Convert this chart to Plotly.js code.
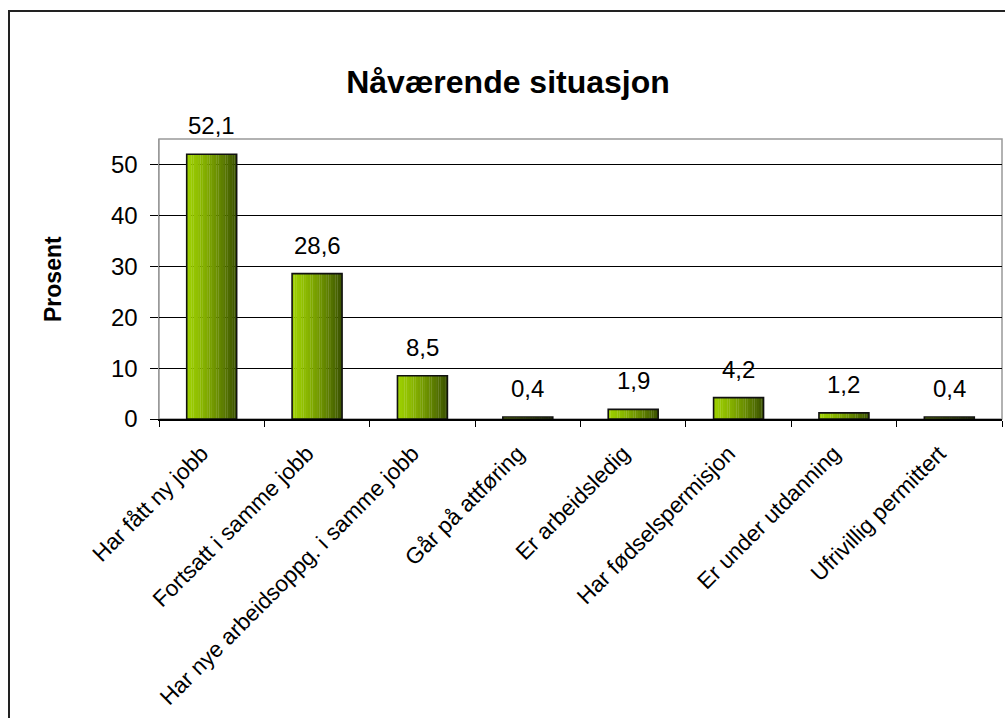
<!DOCTYPE html>
<html>
<head>
<meta charset="utf-8">
<script src="https://cdn.plot.ly/plotly-3.0.1.min.js"></script>
<style>
  html, body { margin: 0; padding: 0; background: #fff; overflow: hidden; }
  #wrap { position: relative; width: 1005px; height: 718px; }
  #chart { position: absolute; left: 0; top: 0; width: 1005px; height: 718px; }
  #frame { position: absolute; left: 8px; top: 10px; width: 1100px; height: 800px;
           border: 2px solid #222; pointer-events: none; box-sizing: border-box; }
</style>
</head>
<body>
<div id="wrap">
  <div id="chart"></div>
  <div id="frame"></div>
</div>
<script>
const categories = [
  "Har fått ny jobb",
  "Fortsatt i samme jobb",
  "Har nye arbeidsoppg. i samme jobb",
  "Går på attføring",
  "Er arbeidsledig",
  "Har fødselspermisjon",
  "Er under utdanning",
  "Ufrivillig permittert"
];
const values = [52.1, 28.6, 8.5, 0.4, 1.9, 4.2, 1.2, 0.4];
const chartTitle = "Nåværende situasjon";
const yTitle = "Prosent";
const yTicks = [0, 10, 20, 30, 40, 50];

const FONT = "Arial, 'Liberation Sans', sans-serif";
const barWidth = 0.474;
const slices = 22;
const cLeft = [156, 206, 0];
const cRight = [60, 84, 0];

const traces = [];
for (let i = 0; i < slices; i++) {
  const t = i / (slices - 1);
  const f = Math.pow(t, 1.3);
  const c = cLeft.map((v, k) => Math.round(v + (cRight[k] - v) * f));
  const w = barWidth / slices;
  traces.push({
    type: "bar",
    x: categories,
    y: values,
    width: w * 1.1,
    offset: -barWidth / 2 + i * w,
    marker: { color: `rgb(${c[0]},${c[1]},${c[2]})`, line: { width: 0 } },
    hoverinfo: "skip",
    showlegend: false
  });
}
traces.push({
  type: "bar",
  x: categories,
  y: values,
  width: barWidth,
  marker: { color: "rgba(0,0,0,0)", line: { color: "#111", width: 1.6 } },
  hovertemplate: "%{x}: %{y:.1f}<extra></extra>",
  showlegend: false
});

const annotations = categories.map((c, i) => ({
  x: c, y: values[i], xref: "x", yref: "y",
  text: values[i].toFixed(1).replace(".", ","),
  showarrow: false, yanchor: "bottom", yshift: 13,
  font: { family: FONT, size: 24, color: "#000" }
}));
annotations.push({
  xref: "paper", yref: "paper",
  x: -106 / 843, y: 0.5, xanchor: "center", yanchor: "middle",
  text: "<b>" + yTitle + "</b>", textangle: -90, showarrow: false,
  font: { family: FONT, size: 23, color: "#000" }
});

const layout = {
  width: 1005, height: 718,
  margin: { l: 159, r: 3, t: 139, b: 299, pad: 0 },
  paper_bgcolor: "#fff", plot_bgcolor: "#fff",
  barmode: "overlay",
  separators: ", ",
  font: { family: FONT, color: "#000" },
  title: {
    text: "<b>" + chartTitle + "</b>",
    font: { family: FONT, size: 32, color: "#000" },
    x: 508 / 1005, xref: "container", xanchor: "center",
    y: 1 - 82 / 718, yref: "container", yanchor: "middle"
  },
  xaxis: {
    type: "category",
    tickson: "boundaries",
    ticks: "outside", ticklen: 6, tickcolor: "#000", tickwidth: 1,
    tickangle: -45,
    ticklabelshift: -10,
    ticklabelstandoff: 11,
    tickfont: { family: FONT, size: 22.5, color: "#000" },
    showline: true, linecolor: "#000", linewidth: 1.5,
    showgrid: false, zeroline: false, fixedrange: true
  },
  yaxis: {
    range: [0, 55.1],
    tickvals: yTicks,
    ticktext: yTicks.map(String),
    ticks: "outside", ticklen: 8, tickcolor: "#000", tickwidth: 1,
    ticklabelstandoff: 7,
    tickfont: { family: FONT, size: 24, color: "#000" },
    showgrid: true, gridcolor: "#000", gridwidth: 1,
    zeroline: false, showline: true, linecolor: "#999", linewidth: 1.5,
    fixedrange: true
  },
  shapes: [{
    type: "rect", xref: "paper", yref: "paper", x0: 0, x1: 1, y0: 0, y1: 1,
    line: { color: "#999", width: 1.5 }, fillcolor: "rgba(0,0,0,0)", layer: "below"
  }],
  annotations: annotations
};

Plotly.newPlot("chart", traces, layout, { displayModeBar: false, staticPlot: true });
</script>
</body>
</html>
